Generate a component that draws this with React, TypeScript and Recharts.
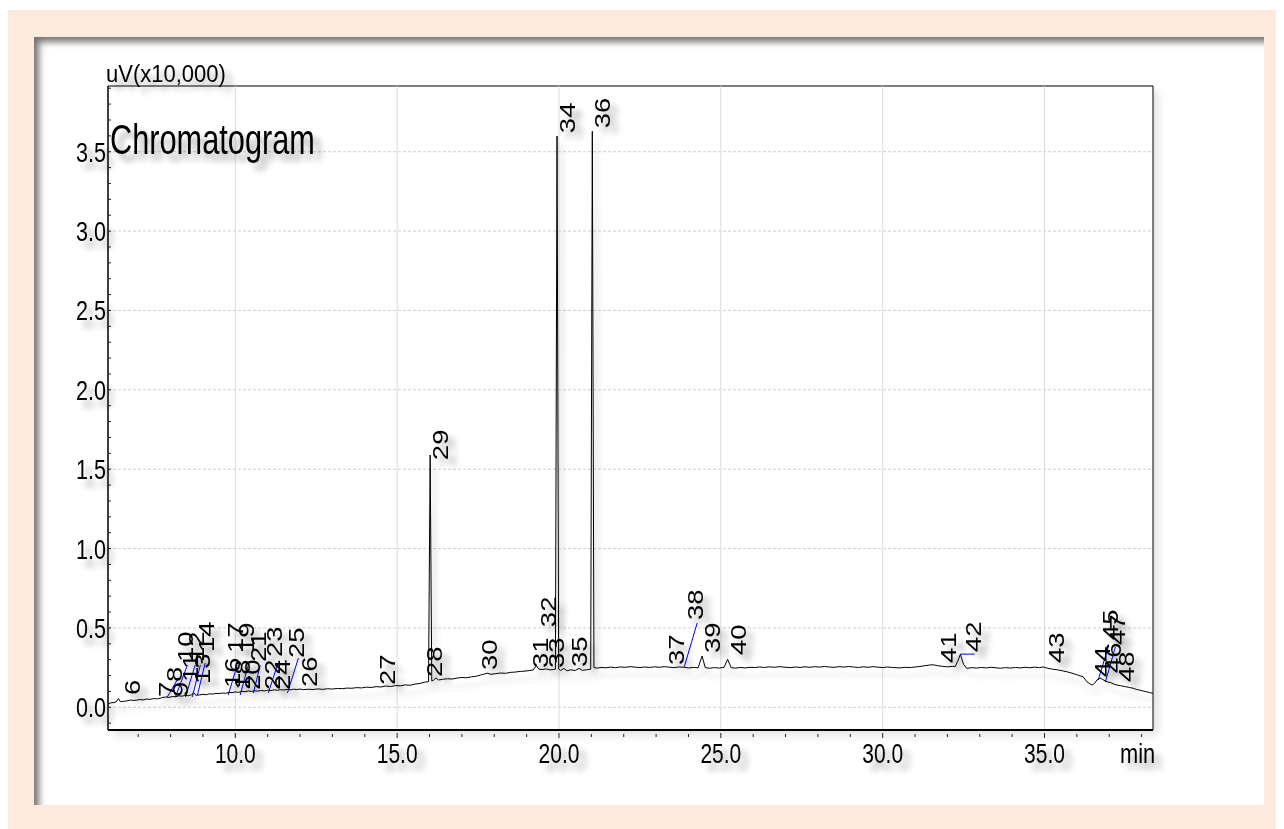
import React from "react";
import {
  ComposedChart,
  Line,
  Scatter,
  XAxis,
  YAxis,
  ReferenceLine,
  ReferenceArea,
} from "recharts";

const X_MIN = 6.067;
const X_MAX = 38.352;
const Y_MIN = -0.143;
const Y_MAX = 3.914;

const X_LABELS = [10, 15, 20, 25, 30, 35];
const X_TICKS = [7, 8, 9, 10, 11, 12, 13, 14, 15, 16, 17, 18, 19, 20, 21, 22, 23, 24, 25, 26, 27, 28, 29, 30, 31, 32, 33, 34, 35, 36, 37, 38];
const Y_LABELS = [0, 0.5, 1, 1.5, 2, 2.5, 3, 3.5];
const Y_TICKS = [-0.1, 0, 0.1, 0.2, 0.3, 0.4, 0.5, 0.6, 0.7, 0.8, 0.9, 1, 1.1, 1.2, 1.3, 1.4, 1.5, 1.6, 1.7, 1.8, 1.9, 2, 2.1, 2.2, 2.3, 2.4, 2.5, 2.6, 2.7, 2.8, 2.9, 3, 3.1, 3.2, 3.3, 3.4, 3.5, 3.6, 3.7, 3.8, 3.9];

// [min, uV x10,000]
const TRACE: [number, number][] = [
  [6.07, 0.02], [6.15, 0.028], [6.25, 0.03], [6.32, 0.034], [6.39, 0.055], [6.45, 0.035],
  [6.55, 0.038], [6.65, 0.04], [6.76, 0.046], [6.85, 0.043], [6.95, 0.045], [7.05, 0.049],
  [7.15, 0.046], [7.25, 0.052], [7.37, 0.05], [7.48, 0.055], [7.6, 0.053], [7.72, 0.06],
  [7.84, 0.065], [7.95, 0.062], [8.05, 0.068], [8.15, 0.066], [8.25, 0.072], [8.35, 0.07],
  [8.45, 0.075], [8.55, 0.073], [8.65, 0.079], [8.72, 0.092], [8.78, 0.076], [8.9, 0.078],
  [9.0, 0.082], [9.1, 0.079], [9.2, 0.085], [9.3, 0.083], [9.4, 0.088], [9.5, 0.086],
  [9.6, 0.09], [9.7, 0.088], [9.8, 0.094], [9.9, 0.092], [10.0, 0.097], [10.1, 0.094],
  [10.2, 0.1], [10.3, 0.098], [10.4, 0.103], [10.5, 0.1], [10.6, 0.104], [10.7, 0.102],
  [10.8, 0.106], [10.9, 0.103], [11.0, 0.108], [11.1, 0.105], [11.2, 0.11], [11.3, 0.107],
  [11.39, 0.111], [11.5, 0.109], [11.6, 0.113], [11.7, 0.11], [11.8, 0.114], [11.9, 0.112],
  [12.0, 0.115], [12.1, 0.111], [12.25, 0.114], [12.4, 0.112], [12.55, 0.116], [12.7, 0.113],
  [12.85, 0.117], [13.0, 0.115], [13.15, 0.119], [13.3, 0.117], [13.45, 0.121], [13.6, 0.12],
  [13.75, 0.124], [13.9, 0.122], [14.05, 0.127], [14.2, 0.125], [14.35, 0.13], [14.5, 0.128],
  [14.65, 0.134], [14.8, 0.131], [14.95, 0.137], [15.1, 0.135], [15.25, 0.141], [15.4, 0.139],
  [15.55, 0.146], [15.7, 0.15], [15.85, 0.158], [15.97, 0.162], [16.02, 1.589], [16.07, 0.166],
  [16.12, 0.17], [16.2, 0.185], [16.28, 0.172], [16.4, 0.176], [16.55, 0.18], [16.7, 0.178],
  [16.85, 0.184], [17.0, 0.188], [17.15, 0.186], [17.3, 0.192], [17.45, 0.196], [17.57, 0.203],
  [17.7, 0.21], [17.78, 0.215], [17.9, 0.208], [18.05, 0.212], [18.2, 0.216], [18.35, 0.214],
  [18.5, 0.22], [18.65, 0.222], [18.8, 0.226], [18.95, 0.228], [19.1, 0.232], [19.2, 0.235],
  [19.3, 0.262], [19.38, 0.24], [19.48, 0.238], [19.6, 0.242], [19.72, 0.236], [19.82, 0.238],
  [19.89, 0.24], [19.94, 3.598], [19.99, 0.242], [20.05, 0.232], [20.15, 0.245], [20.25, 0.23],
  [20.35, 0.236], [20.5, 0.232], [20.62, 0.245], [20.72, 0.233], [20.85, 0.236], [20.98, 0.24],
  [21.03, 3.629], [21.08, 0.25], [21.18, 0.247], [21.3, 0.251], [21.45, 0.249], [21.6, 0.253],
  [21.75, 0.25], [21.9, 0.254], [22.05, 0.252], [22.2, 0.256], [22.35, 0.253], [22.5, 0.25],
  [22.65, 0.254], [22.8, 0.251], [22.95, 0.255], [23.1, 0.252], [23.25, 0.256], [23.4, 0.253],
  [23.55, 0.25], [23.7, 0.254], [23.88, 0.252], [24.0, 0.248], [24.15, 0.251], [24.3, 0.249],
  [24.42, 0.323], [24.52, 0.25], [24.65, 0.246], [24.8, 0.25], [24.95, 0.247], [25.1, 0.252],
  [25.21, 0.302], [25.32, 0.25], [25.45, 0.247], [25.6, 0.251], [25.75, 0.248], [25.9, 0.252],
  [26.05, 0.25], [26.2, 0.254], [26.35, 0.251], [26.5, 0.255], [26.65, 0.252], [26.8, 0.256],
  [26.95, 0.253], [27.14, 0.25], [27.3, 0.254], [27.45, 0.251], [27.6, 0.255], [27.75, 0.252],
  [27.9, 0.256], [28.05, 0.253], [28.2, 0.257], [28.35, 0.254], [28.5, 0.252], [28.65, 0.256],
  [28.8, 0.253], [28.95, 0.257], [29.1, 0.254], [29.25, 0.251], [29.4, 0.255], [29.55, 0.252],
  [29.7, 0.256], [29.85, 0.253], [30.0, 0.25], [30.15, 0.254], [30.3, 0.251], [30.54, 0.248],
  [30.7, 0.252], [30.85, 0.25], [31.0, 0.254], [31.15, 0.257], [31.3, 0.262], [31.45, 0.266],
  [31.56, 0.268], [31.7, 0.262], [31.85, 0.258], [32.0, 0.255], [32.15, 0.258], [32.24, 0.256],
  [32.32, 0.29], [32.4, 0.334], [32.5, 0.27], [32.6, 0.245], [32.75, 0.25], [32.9, 0.247],
  [33.05, 0.251], [33.2, 0.248], [33.35, 0.252], [33.5, 0.249], [33.63, 0.246], [33.8, 0.25],
  [33.95, 0.247], [34.1, 0.251], [34.25, 0.248], [34.4, 0.252], [34.55, 0.249], [34.7, 0.253],
  [34.85, 0.25], [34.96, 0.254], [35.1, 0.246], [35.25, 0.24], [35.4, 0.236], [35.55, 0.23],
  [35.69, 0.224], [35.85, 0.215], [36.0, 0.205], [36.1, 0.198], [36.19, 0.193], [36.31, 0.161],
  [36.4, 0.148], [36.47, 0.14], [36.55, 0.152], [36.62, 0.172], [36.72, 0.184], [36.8, 0.175],
  [36.93, 0.161], [37.05, 0.155], [37.15, 0.146], [37.24, 0.14], [37.35, 0.136], [37.5, 0.13],
  [37.62, 0.125], [37.74, 0.12], [37.85, 0.112], [37.95, 0.108], [38.05, 0.102], [38.15, 0.098],
  [38.25, 0.093], [38.35, 0.088],
];

// peak number, label time, label foot height
const PEAK_NAMES = ["6", "7", "8", "9", "10", "11", "12", "13", "14", "16", "17", "18", "19", "20", "21", "22", "23", "24", "25", "26", "27", "28", "29", "30", "31", "32", "33", "34", "35", "36", "37", "38", "39", "40", "41", "42", "43", "44", "45", "46", "47", "48"];
const PEAK_T = [6.81, 7.87, 8.12, 8.3, 8.45, 8.61, 8.79, 8.98, 9.1, 9.91, 10.0, 10.22, 10.34, 10.52, 10.71, 11.14, 11.2, 11.45, 11.88, 12.29, 14.7, 16.15, 16.33, 17.85, 19.42, 19.67, 19.92, 20.26, 20.63, 21.34, 23.62, 24.21, 24.73, 25.54, 32.03, 32.8, 35.36, 36.78, 37.02, 37.11, 37.24, 37.51];
const PEAK_V = [0.077, 0.065, 0.159, 0.065, 0.285, 0.159, 0.285, 0.147, 0.348, 0.122, 0.342, 0.109, 0.342, 0.109, 0.285, 0.109, 0.317, 0.109, 0.31, 0.128, 0.14, 0.191, 1.557, 0.235, 0.247, 0.505, 0.247, 3.617, 0.254, 3.648, 0.266, 0.55, 0.342, 0.329, 0.279, 0.348, 0.279, 0.191, 0.424, 0.216, 0.392, 0.159];

// blue label leaders: [t1, v1, t2, v2]
const LEADERS: [number, number, number, number][] = [
  [7.9, 0.065, 8.24, 0.185],
  [8.15, 0.065, 8.52, 0.266],
  [8.46, 0.065, 8.76, 0.266],
  [8.67, 0.065, 8.92, 0.266],
  [8.83, 0.077, 9.07, 0.279],
  [9.78, 0.077, 10.06, 0.266],
  [10.15, 0.077, 10.4, 0.266],
  [10.56, 0.09, 10.77, 0.266],
  [11.02, 0.09, 11.3, 0.266],
  [11.61, 0.09, 11.95, 0.31],
  [23.87, 0.254, 24.27, 0.531],
  [32.4, 0.335, 32.84, 0.335],
  [36.66, 0.172, 36.97, 0.38],
  [36.88, 0.159, 37.19, 0.38],
];

const FONT = "'Liberation Sans', Arial, sans-serif";

const traceData = TRACE.map(([t, v]) => ({ t, v }));
const labelData = PEAK_NAMES.map((name, i) => ({ name, t: PEAK_T[i], v: PEAK_V[i] }));

function XTick(props: any) {
  const { x, y, payload } = props;
  const major = X_LABELS.includes(payload.value);
  return (
    <g>
      <line x1={x} x2={x} y1={y + (major ? 3 : 4)} y2={y + (major ? 8 : 7)} stroke="#222" />
      {major && (
        <g filter="url(#ts)">
          <text
            transform={`translate(${x},${y + 33}) scale(0.75,1)`}
            textAnchor="middle"
            fontSize={28}
            fontFamily={FONT}
            fill="#000"
          >
            {payload.value.toFixed(1)}
          </text>
        </g>
      )}
    </g>
  );
}

function YTick(props: any) {
  const { x, y, payload } = props;
  const major = Y_LABELS.includes(payload.value);
  return (
    <g>
      <line x1={x} x2={x + 3} y1={y} y2={y} stroke="#222" />
      {major && (
        <g filter="url(#ts)">
          <text
            transform={`translate(${x - 2},${y + 10}) scale(0.77,1)`}
            textAnchor="end"
            fontSize={28}
            fontFamily={FONT}
            fill="#000"
          >
            {payload.value.toFixed(1)}
          </text>
        </g>
      )}
    </g>
  );
}

function PeakLabel(props: any) {
  const { cx, cy, payload } = props;
  if (cx == null || cy == null) return null;
  return (
    <g filter="url(#ts)">
      <text
        transform={`translate(${cx},${cy}) rotate(-90) scale(1.25,1)`}
        dy="0.36em"
        textAnchor="start"
        fontSize={22}
        fontFamily={FONT}
        fill="#000"
      >
        {payload.name}
      </text>
    </g>
  );
}

export default function App() {
  return (
    <div>
      <div style={{ height: 2 }} />
      <svg width={0} height={0} style={{ position: "absolute" }}>
        <defs>
          <filter id="ts" x="-100%" y="-60%" width="300%" height="220%">
            <feGaussianBlur in="SourceAlpha" stdDeviation="3" />
            <feOffset dx="7" dy="7" />
            <feComponentTransfer>
              <feFuncA type="linear" slope="0.35" />
            </feComponentTransfer>
            <feMerge>
              <feMergeNode />
              <feMergeNode in="SourceGraphic" />
            </feMerge>
          </filter>
          <filter id="ls" x="-5%" y="-5%" width="110%" height="115%">
            <feGaussianBlur in="SourceAlpha" stdDeviation="3" />
            <feOffset dx="4" dy="8" />
            <feComponentTransfer>
              <feFuncA type="linear" slope="0.25" />
            </feComponentTransfer>
            <feMerge>
              <feMergeNode />
              <feMergeNode in="SourceGraphic" />
            </feMerge>
          </filter>
        </defs>
      </svg>
      <div
        style={{
          position: "relative",
          width: 1276,
          height: 819,
          background: "#fdeadc",
        }}
      >
        <div
          style={{
            position: "absolute",
            left: 26,
            top: 27,
            width: 1230,
            height: 768,
            background: "#fff",
            boxShadow: "inset 7px 7px 7px -2px rgba(0,0,0,0.55)",
          }}
        >
          <div
            style={{
              position: "absolute",
              left: 74,
              top: 49,
              width: 1045,
              height: 644,
              background: "#fff",
              boxShadow: "5px 5px 9px rgba(0,0,0,0.12)",
            }}
          />
          <div style={{ position: "absolute", left: 0, top: 0 }}>
            <ComposedChart
              width={1230}
              height={768}
              margin={{ top: 49, right: 111, left: 0, bottom: 0 }}
            >
              <XAxis
                dataKey="t"
                type="number"
                domain={[X_MIN, X_MAX]}
                allowDataOverflow
                ticks={X_TICKS}
                interval={0}
                height={75}
                tickSize={0}
                tickMargin={0}
                tickLine={false}
                axisLine={{ stroke: "#000", strokeWidth: 2 }}
                tick={(p: any) => <XTick {...p} />}
              />
              <YAxis
                type="number"
                domain={[Y_MIN, Y_MAX]}
                allowDataOverflow
                ticks={Y_TICKS}
                interval={0}
                width={74}
                tickSize={0}
                tickMargin={0}
                tickLine={false}
                axisLine={{ stroke: "#000" }}
                tick={(p: any) => <YTick {...p} />}
              />
              {Y_LABELS.map((v) => (
                <ReferenceLine key={"h" + v} y={v} stroke="#cfcfcf" strokeDasharray="3 2" />
              ))}
              {X_LABELS.map((t) => (
                <ReferenceLine key={"v" + t} x={t} stroke="#dcdcdc" />
              ))}
              <ReferenceArea
                x1={X_MIN}
                x2={X_MAX}
                y1={Y_MIN}
                y2={Y_MAX}
                fill="none"
                fillOpacity={0}
                stroke="#000"
                strokeWidth={1}
              />
              {LEADERS.map(([t1, v1, t2, v2], i) => (
                <ReferenceLine
                  key={"l" + i}
                  segment={[{ x: t1, y: v1 }, { x: t2, y: v2 }]}
                  stroke="#0000ff"
                  strokeWidth={1}
                  ifOverflow="visible"
                />
              ))}
              <Line
                data={traceData}
                dataKey="v"
                type="linear"
                stroke="#000"
                strokeWidth={1}
                dot={false}
                filter="url(#ls)"
                isAnimationActive={false}
              />
              <Scatter
                data={labelData}
                dataKey="v"
                shape={(p: any) => <PeakLabel {...p} />}
                isAnimationActive={false}
              />
            </ComposedChart>
          </div>
          <svg
            width={1230}
            height={768}
            style={{ position: "absolute", left: 0, top: 0, pointerEvents: "none" }}
          >
            <g filter="url(#ts)">
              <text transform="translate(72,44.7) scale(0.945,1)" fontSize={23.3} fontFamily={FONT} fill="#000">
                uV(x10,000)
              </text>
            </g>
            <g filter="url(#ts)">
              <text transform="translate(76,117) scale(0.715,1)" fontSize={43} fontFamily={FONT} fill="#000">
                Chromatogram
              </text>
            </g>
            <g filter="url(#ts)">
              <text transform="translate(1086,726.3) scale(0.78,1)" fontSize={28} fontFamily={FONT} fill="#000">
                min
              </text>
            </g>
          </svg>
        </div>
      </div>
    </div>
  );
}
